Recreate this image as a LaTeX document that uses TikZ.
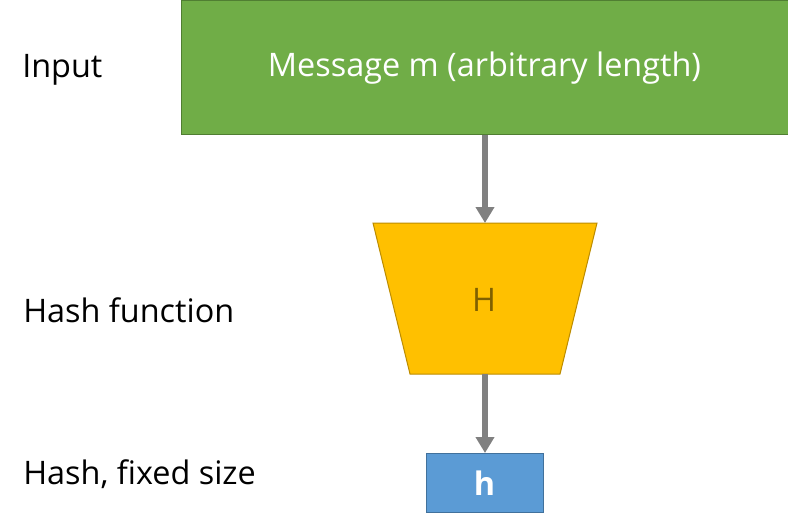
\documentclass[tikz,border=0pt]{standalone}
\usepackage{fontspec}
\setmainfont{Open Sans}
\usetikzlibrary{arrows.meta}
\definecolor{msgfill}{HTML}{70AD47}
\definecolor{msgdraw}{HTML}{507E32}
\definecolor{hfill}{HTML}{FFC000}
\definecolor{hdraw}{HTML}{BC8C00}
\definecolor{htext}{HTML}{7F6000}
\definecolor{outfill}{HTML}{5B9BD5}
\definecolor{outdraw}{HTML}{41719C}
\definecolor{arrowgray}{HTML}{808080}
\tikzset{
  bigfont/.style={font=\fontsize{24.3}{28}\selectfont},
  lbl/.style={anchor=base west, inner sep=0pt, bigfont, text=black},
  flow/.style={draw=arrowgray, line width=4.5pt, -{Triangle[width=13.5pt,length=12pt]}},
}
\begin{document}
\begin{tikzpicture}[x=0.75pt,y=-0.75pt]
\useasboundingbox (0,0) rectangle (788,528);
% input box
\node[draw=msgdraw, line width=0.75pt, fill=msgfill, rectangle, inner sep=0pt,
  minimum width=607*0.75pt, minimum height=133.5*0.75pt, anchor=north west,
  text=white, bigfont] (m) at (180.5,0.5) {Message m (arbitrary length)};
% hash function trapezoid
\draw[draw=hdraw, line width=0.75pt, fill=hfill] (373,223) -- (597,223) -- (560,374) -- (410,374) -- cycle;
\coordinate (htop) at (485,223);
\coordinate (hbot) at (485,374);
\node[text=htext, bigfont, inner sep=0pt] (H) at (484,300) {H};
% output box
\node[draw=outdraw, line width=0.75pt, fill=outfill, rectangle, inner sep=0pt,
  minimum width=117*0.75pt, minimum height=59*0.75pt, anchor=north west,
  text=white, font=\fontsize{24.3}{28}\selectfont\bfseries] (h) at (425.5,453) {h};
% labels
\node[lbl] (l1) at (22,78) {Input};
\node[lbl] (l2) at (23,322) {Hash function};
\node[lbl] (l3) at (23,484) {Hash, fixed size};
% connectors
\draw[flow] (m.south -| htop) -- (htop);
\draw[flow] (hbot) -- (h.north -| hbot);
\end{tikzpicture}
\end{document}
